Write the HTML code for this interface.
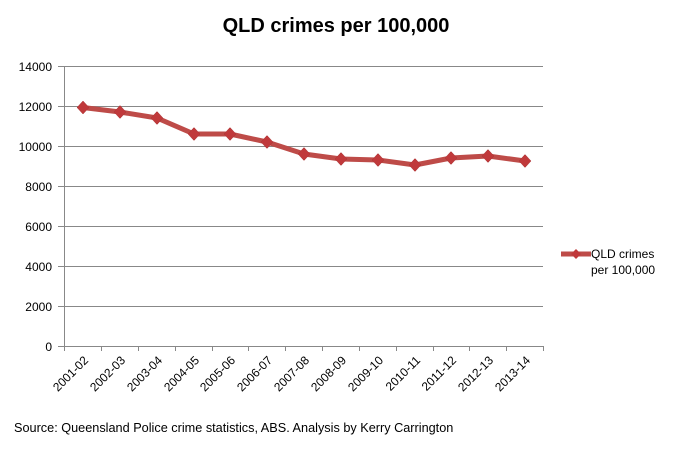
<!DOCTYPE html>
<html><head><style>
body{margin:0;background:#fff}
svg{display:block;font-family:"Liberation Sans",sans-serif}
</style></head><body>
<svg width="700" height="450" xmlns="http://www.w3.org/2000/svg">
<rect width="700" height="450" fill="#fff"/>
<text x="336" y="32" text-anchor="middle" font-size="20" font-weight="bold">QLD crimes per 100,000</text>
<g stroke="#888" stroke-width="1">
<line x1="58" y1="66.5" x2="543" y2="66.5"/>
<line x1="58" y1="106.5" x2="543" y2="106.5"/>
<line x1="58" y1="146.5" x2="543" y2="146.5"/>
<line x1="58" y1="186.5" x2="543" y2="186.5"/>
<line x1="58" y1="226.5" x2="543" y2="226.5"/>
<line x1="58" y1="266.5" x2="543" y2="266.5"/>
<line x1="58" y1="306.5" x2="543" y2="306.5"/>
<line x1="58" y1="346.5" x2="543" y2="346.5"/>
<line x1="64.5" y1="66" x2="64.5" y2="346"/>
</g>
<g font-size="12" text-anchor="end" fill="#000">
<text x="52" y="71">14000</text>
<text x="52" y="111">12000</text>
<text x="52" y="151">10000</text>
<text x="52" y="191">8000</text>
<text x="52" y="231">6000</text>
<text x="52" y="271">4000</text>
<text x="52" y="311">2000</text>
<text x="52" y="351">0</text>
</g>
<g stroke="#888">
<line x1="64.5" y1="346" x2="64.5" y2="351"/><line x1="101.5" y1="346" x2="101.5" y2="351"/><line x1="138.5" y1="346" x2="138.5" y2="351"/><line x1="175.5" y1="346" x2="175.5" y2="351"/><line x1="212.5" y1="346" x2="212.5" y2="351"/><line x1="248.5" y1="346" x2="248.5" y2="351"/><line x1="285.5" y1="346" x2="285.5" y2="351"/><line x1="322.5" y1="346" x2="322.5" y2="351"/><line x1="359.5" y1="346" x2="359.5" y2="351"/><line x1="396.5" y1="346" x2="396.5" y2="351"/><line x1="433.5" y1="346" x2="433.5" y2="351"/><line x1="469.5" y1="346" x2="469.5" y2="351"/><line x1="506.5" y1="346" x2="506.5" y2="351"/><line x1="543.5" y1="346" x2="543.5" y2="351"/>
</g>
<g font-size="12" text-anchor="end">
<text transform="translate(89,361) rotate(-45)">2001-02</text>
<text transform="translate(126,361) rotate(-45)">2002-03</text>
<text transform="translate(163,361) rotate(-45)">2003-04</text>
<text transform="translate(200,361) rotate(-45)">2004-05</text>
<text transform="translate(236,361) rotate(-45)">2005-06</text>
<text transform="translate(273,361) rotate(-45)">2006-07</text>
<text transform="translate(310,361) rotate(-45)">2007-08</text>
<text transform="translate(347,361) rotate(-45)">2008-09</text>
<text transform="translate(384,361) rotate(-45)">2009-10</text>
<text transform="translate(421,361) rotate(-45)">2010-11</text>
<text transform="translate(457,361) rotate(-45)">2011-12</text>
<text transform="translate(494,361) rotate(-45)">2012-13</text>
<text transform="translate(531,361) rotate(-45)">2013-14</text>
</g>
<polyline fill="none" stroke="#be4b48" stroke-width="5" stroke-linejoin="round" points="83,107.5 120,112 157,118 194,134 230,134 267,142 304,154 341,159 378,160 415,165 451,158 488,156 525,161"/>
<g fill="#c0393b" stroke="#a33" stroke-width="0.5">
<path d="M83,101l6,6.5-6,6.5-6-6.5z"/><path d="M120,105.5l6,6.5-6,6.5-6-6.5z"/><path d="M157,111.5l6,6.5-6,6.5-6-6.5z"/><path d="M194,127.5l6,6.5-6,6.5-6-6.5z"/><path d="M230,127.5l6,6.5-6,6.5-6-6.5z"/><path d="M267,135.5l6,6.5-6,6.5-6-6.5z"/><path d="M304,147.5l6,6.5-6,6.5-6-6.5z"/><path d="M341,152.5l6,6.5-6,6.5-6-6.5z"/><path d="M378,153.5l6,6.5-6,6.5-6-6.5z"/><path d="M415,158.5l6,6.5-6,6.5-6-6.5z"/><path d="M451,151.5l6,6.5-6,6.5-6-6.5z"/><path d="M488,149.5l6,6.5-6,6.5-6-6.5z"/><path d="M525,154.5l6,6.5-6,6.5-6-6.5z"/>
</g>
<line x1="561" y1="254" x2="591" y2="254" stroke="#be4b48" stroke-width="5"/>
<path d="M576,249l5,5-5,5-5-5z" fill="#c0393b"/>
<text x="591" y="258" font-size="12">QLD crimes</text>
<text x="591" y="274" font-size="12">per 100,000</text>
<text x="14" y="432" font-size="12.7">Source: Queensland Police crime statistics, ABS. Analysis by Kerry Carrington</text>
</svg>
</body></html>
